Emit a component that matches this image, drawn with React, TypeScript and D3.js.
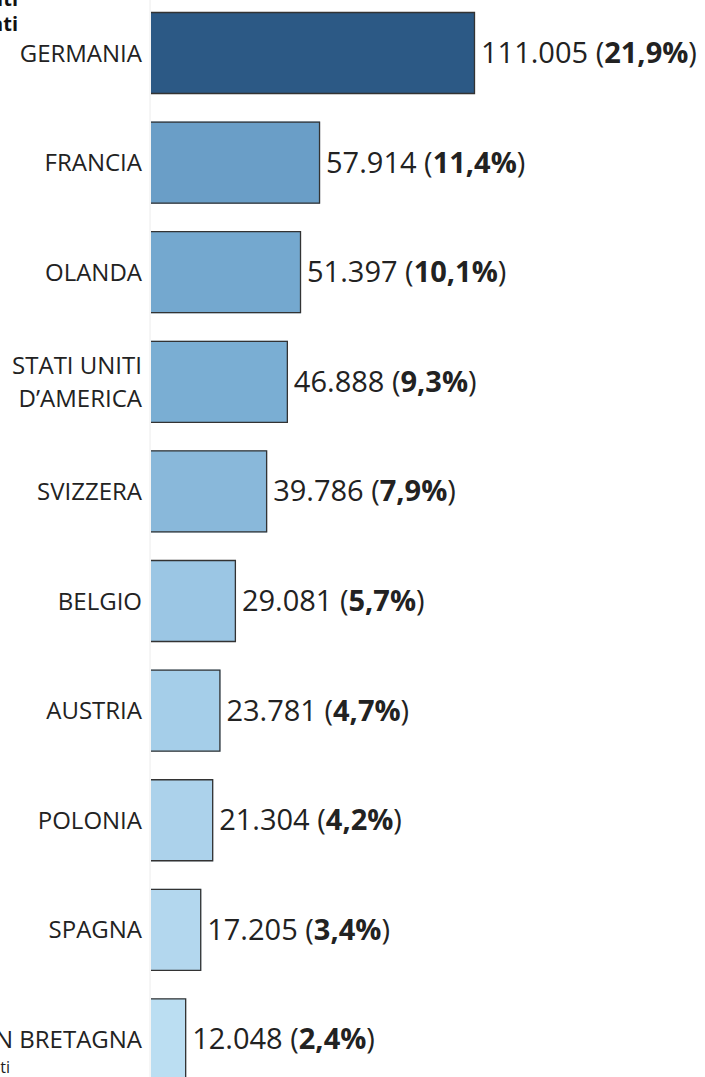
import React from "react";
import * as d3 from "d3";

const countries: string[][] = [
  ["GERMANIA"],
  ["FRANCIA"],
  ["OLANDA"],
  ["STATI UNITI", "D\u2019AMERICA"],
  ["SVIZZERA"],
  ["BELGIO"],
  ["AUSTRIA"],
  ["POLONIA"],
  ["SPAGNA"],
  ["GRAN BRETAGNA"],
];
const values = [111005, 57914, 51397, 46888, 39786, 29081, 23781, 21304, 17205, 12048];
const valueLabels = ["111.005", "57.914", "51.397", "46.888", "39.786", "29.081", "23.781", "21.304", "17.205", "12.048"];
const shareLabels = ["21,9%", "11,4%", "10,1%", "9,3%", "7,9%", "5,7%", "4,7%", "4,2%", "3,4%", "2,4%"];
const colors = ["#2c5985", "#6a9ec7", "#74a8cf", "#7aaed3", "#89b8da", "#9bc6e4", "#a5cee9", "#acd2eb", "#b3d7ee", "#bbdef2"];

const W = 705;
const H = 1077;
const axisX = 151;
const FONT = "'Open Sans', sans-serif";

export default function App() {
  const x = d3.scaleLinear().domain([0, 111005]).range([0, 324]);
  const y = d3
    .scaleBand<number>()
    .domain(d3.range(values.length))
    .range([1.04, 1091.4])
    .paddingInner(0.2518)
    .paddingOuter(0.1);

  return (
    <svg width={W} height={H} style={{ position: "absolute", left: 0, top: 0, background: "#fff" }}>
      <line x1={axisX - 1} x2={axisX - 1} y1={0} y2={H} stroke="#ececec" strokeWidth={1} />
      {values.map((v, i) => {
        const y0 = y(i)!;
        const bh = y.bandwidth();
        const cy = y0 + bh / 2;
        const w = x(v);
        const lines = countries[i];
        return (
          <g key={i}>
            <rect x={axisX} y={y0} width={w} height={bh} fill={colors[i]} />
            <path
              d={`M${axisX},${y0 + 0.5}H${axisX + w - 0.5}V${y0 + bh - 0.5}H${axisX}`}
              fill="none"
              stroke="#333"
              strokeWidth={1.3}
            />
            {lines.map((t, j) => (
              <text
                key={j}
                x={142}
                y={cy + 8.5 + (j - (lines.length - 1) / 2) * 33}
                textAnchor="end"
                fontFamily={FONT}
                fontSize={24}
                fill="#222"
              >
                {t}
              </text>
            ))}
            <text x={axisX + w + 6} y={cy + 10} fontFamily={FONT} fontSize={29} fill="#222">
              {valueLabels[i]} (<tspan fontWeight="bold">{shareLabels[i]}</tspan>)
            </text>
          </g>
        );
      })}
      <text x={18} y={6} textAnchor="end" fontFamily={FONT} fontSize={20} fontWeight="bold" fill="#111">
        Stati Uniti
      </text>
      <text x={18} y={31} textAnchor="end" fontFamily={FONT} fontSize={20} fontWeight="bold" fill="#111">
        Importanti
      </text>
      <text x={10} y={1073} textAnchor="end" fontFamily={FONT} fontSize={16} fill="#222">
        dati
      </text>
    </svg>
  );
}
